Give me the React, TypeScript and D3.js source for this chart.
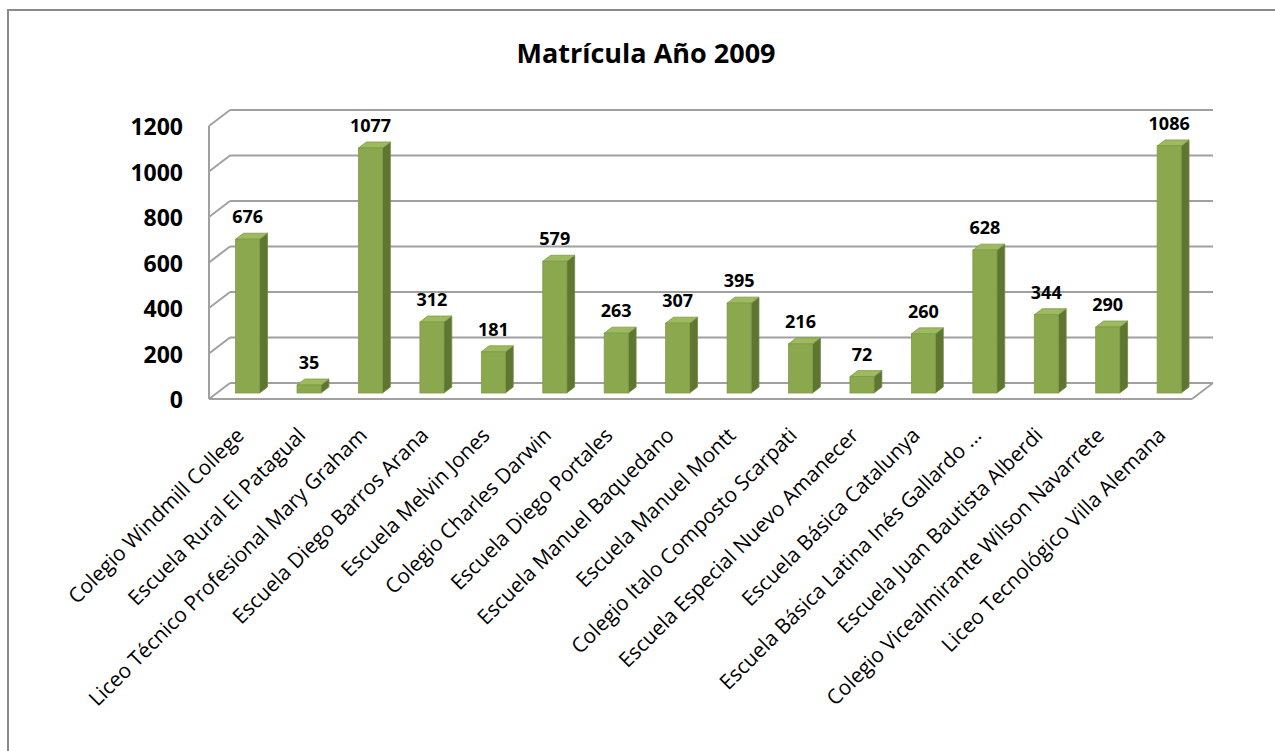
import React from 'react';
import * as d3 from 'd3';

const categories = [
  'Colegio Windmill College',
  'Escuela Rural El Patagual',
  'Liceo Técnico Profesional Mary Graham',
  'Escuela Diego Barros Arana',
  'Escuela Melvin Jones',
  'Colegio Charles Darwin',
  'Escuela Diego Portales',
  'Escuela Manuel Baquedano',
  'Escuela Manuel Montt',
  'Colegio Italo Composto Scarpati',
  'Escuela Especial Nuevo Amanecer',
  'Escuela Básica Catalunya',
  'Escuela Básica Latina Inés Gallardo ...',
  'Escuela Juan Bautista Alberdi',
  'Colegio Vicealmirante Wilson Navarrete',
  'Liceo Tecnológico Villa Alemana',
];
const values = [676, 35, 1077, 312, 181, 579, 263, 307, 395, 216, 72, 260, 628, 344, 290, 1086];
const yTicks = [0, 200, 400, 600, 800, 1000, 1200];
const title = 'Matrícula Año 2009';

export default function App() {
  const W = 1275, H = 751;
  const x0 = 209, x1 = 1192, floorY = 399;
  const dx = 21, dy = -16;
  const x = d3.scaleBand<string>().domain(categories).range([x0, x1]);
  const h = d3.scaleLinear().domain([0, 1200]).range([0, 273]);
  const barW = 24;
  const bf = 0.375, bd = 0.375;
  const ddx = bd * dx, ddy = bd * dy;
  const grid = '#a0a0a0';
  const font = "'Open Sans', 'Noto Sans', sans-serif";

  return (
    <svg width={W} height={H} style={{ position: 'absolute', left: 0, top: 0, background: '#fff' }}>
      <rect x={0} y={0} width={W} height={H} fill="#fff" />
      <line x1={8} x2={W} y1={10} y2={10} stroke="#8a8a8a" strokeWidth={2} />
      <line x1={8} x2={8} y1={9} y2={H} stroke="#8a8a8a" strokeWidth={2} />
      <text x={646} y={52} textAnchor="middle" dominantBaseline="central" fontFamily={font} fontWeight="bold" fontSize={27} fill="#000">{title}</text>

      {/* walls */}
      {yTicks.map((t) => (
        <g key={t}>
          <line x1={x0 + dx} x2={x1 + dx} y1={floorY + dy - h(t)} y2={floorY + dy - h(t)} stroke={grid} strokeWidth={2} />
          <line x1={x0} x2={x0 + dx} y1={floorY - h(t)} y2={floorY + dy - h(t)} stroke={grid} strokeWidth={2} />
          <text x={183} y={floorY - h(t)} textAnchor="end" dominantBaseline="central" fontFamily={font} fontWeight="bold" fontSize={23} fill="#000">{t}</text>
        </g>
      ))}
      <line x1={x0} x2={x0} y1={floorY} y2={floorY - h(1200)} stroke={grid} strokeWidth={2} />
      <line x1={x0} x2={x1} y1={floorY} y2={floorY} stroke={grid} strokeWidth={2} />
      <line x1={x1} x2={x1 + dx} y1={floorY} y2={floorY + dy} stroke={grid} strokeWidth={2} />

      {/* bars */}
      {categories.map((c, i) => {
        const v = values[i];
        const cx = (x(c) as number) + x.bandwidth() / 2;
        const xl = cx - barW / 2 + bf * dx;
        const bottom = floorY + bf * dy;
        const top = bottom - h(v);
        const topPts = [[xl, top], [xl + barW, top], [xl + barW + ddx, top + ddy], [xl + ddx, top + ddy]];
        const sidePts = [[xl + barW, top], [xl + barW + ddx, top + ddy], [xl + barW + ddx, bottom + ddy], [xl + barW, bottom]];
        return (
          <g key={c}>
            <polygon points={sidePts.map((p) => p.join(',')).join(' ')} fill="#5e7632" stroke="#6f8a3d" strokeWidth={0.8} />
            <polygon points={topPts.map((p) => p.join(',')).join(' ')} fill="#9dba5e" stroke="#7f9c45" strokeWidth={0.8} />
            <rect x={xl} y={top} width={barW} height={h(v)} fill="#8ba84e" stroke="#7e9b45" strokeWidth={0.8} />
            <text x={xl + barW / 2} y={top - 16} textAnchor="middle" fontFamily={font} fontWeight="bold" fontSize={18} fill="#000">{v}</text>
          </g>
        );
      })}

      {/* category labels */}
      {categories.map((c) => {
        const cx = (x(c) as number) + x.bandwidth() / 2;
        return (
          <text key={c} transform={`translate(${cx},${431}) rotate(-45)`} textAnchor="end" dominantBaseline="central" fontFamily={font} fontSize={20.8} fill="#000">{c}</text>
        );
      })}
    </svg>
  );
}
